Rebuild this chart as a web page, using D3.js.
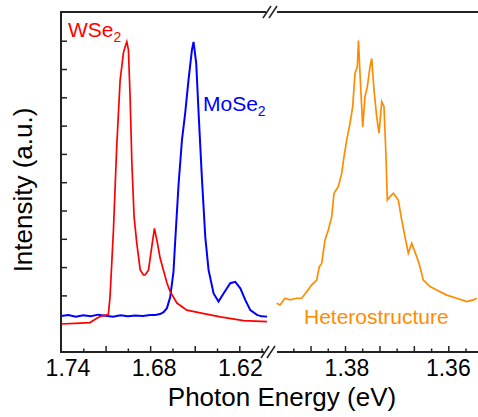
<!DOCTYPE html>
<html><head><meta charset="utf-8">
<script src="https://cdn.jsdelivr.net/npm/d3@7/dist/d3.min.js"></script>
<style>body{margin:0;background:#fff} svg{display:block} text{font-family:"Liberation Sans",Arial,sans-serif}</style>
</head><body><svg id="c" width="478" height="417"></svg>
<script>
// ---- data (photon energy in eV, intensity in a.u.) ----
const wse2E = [1.7400,1.7306,1.7204,1.7159,1.7130,1.7092,1.7081,1.7070,1.7047,1.7025,1.7002,1.6992,1.6980,1.6969,1.6957,1.6946,1.6935,1.6923,1.6908,1.6890,1.6867,1.6845,1.6834,1.6811,1.6789,1.6771,1.6751,1.6733,1.6687,1.6665,1.6620,1.6553,1.6463,1.6328,1.6171,1.6013];
const wse2I = [0.099,0.101,0.104,0.119,0.127,0.131,0.134,0.195,0.431,0.725,0.961,1.004,1.057,1.078,1.096,1.067,0.902,0.668,0.478,0.385,0.290,0.272,0.272,0.290,0.372,0.437,0.385,0.332,0.244,0.213,0.173,0.148,0.138,0.124,0.111,0.107];
const mose2E = [1.7400,1.7350,1.7300,1.7250,1.7200,1.7150,1.7100,1.7050,1.7000,1.6950,1.6900,1.6850,1.6800,1.6766,1.6733,1.6710,1.6687,1.6665,1.6643,1.6631,1.6609,1.6586,1.6564,1.6542,1.6519,1.6508,1.6490,1.6474,1.6451,1.6429,1.6407,1.6373,1.6340,1.6306,1.6261,1.6227,1.6193,1.6160,1.6126,1.6081,1.6050,1.6013];
const mose2I = [0.127,0.131,0.125,0.130,0.126,0.132,0.128,0.125,0.130,0.126,0.129,0.127,0.131,0.131,0.134,0.141,0.155,0.194,0.283,0.396,0.590,0.749,0.845,0.961,1.067,1.096,1.021,0.845,0.608,0.407,0.290,0.207,0.178,0.207,0.243,0.248,0.225,0.184,0.148,0.131,0.126,0.125];
const hetE = [1.39322,1.39258,1.39162,1.39065,1.38935,1.38838,1.38742,1.38645,1.38548,1.38498,1.38451,1.38387,1.38323,1.38257,1.38213,1.38130,1.38064,1.38019,1.37967,1.37903,1.37851,1.37806,1.37762,1.37739,1.37710,1.37657,1.37613,1.37568,1.37516,1.37483,1.37439,1.37386,1.37342,1.37289,1.37245,1.37206,1.37181,1.37129,1.37065,1.36968,1.36902,1.36838,1.36774,1.36709,1.36612,1.36548,1.36484,1.36354,1.36225,1.36031,1.35837,1.35644,1.35516,1.35450];
const hetI = [0.172,0.166,0.190,0.184,0.190,0.190,0.213,0.237,0.254,0.301,0.313,0.396,0.431,0.478,0.561,0.584,0.631,0.690,0.749,0.808,0.867,0.985,1.008,1.101,0.986,0.795,0.902,0.937,1.008,1.037,0.926,0.831,0.773,0.884,0.867,0.690,0.537,0.549,0.561,0.537,0.466,0.407,0.349,0.384,0.337,0.301,0.254,0.231,0.219,0.201,0.190,0.178,0.184,0.190];
const leftTicks = [1.725,1.71,1.695,1.68,1.665,1.65,1.635,1.62,1.605];
const leftMajor = [1.71,1.68,1.65,1.62];
const leftLabels = ["1.74","1.68","1.62"];
const rightTicks = [1.39,1.38667,1.38333,1.38,1.37667,1.37333,1.37,1.36667,1.36333,1.36,1.35667];
const rightMajor = [1.38667,1.38,1.37333,1.36667,1.36];
const rightLabels = ["1.38","1.36"];
const yTicks = [0.2,0.3,0.4,0.5,0.6,0.7,0.8,0.9,1.0,1.1];

const svg = d3.select("#c");
const xL = d3.scaleLinear().domain([1.74, 1.62]).range([61, 239.3]);
const xR = d3.scaleLinear().domain([1.38, 1.36]).range([345, 448.3]);
const y = d3.scaleLinear().domain([0, 1.1]).range([352, 40.7]);
const axisCol = "#222";
const FONT = '"Liberation Sans",Arial,sans-serif';

// curves
const lineL = d3.line().x(d => xL(d[0])).y(d => y(d[1]));
const lineR = d3.line().x(d => xR(d[0])).y(d => y(d[1]));
svg.append("path").datum(mose2E.map((e,i)=>[e,mose2I[i]])).attr("d", lineL)
  .attr("fill","none").attr("stroke","#0000ff").attr("stroke-width",2);
svg.append("path").datum(wse2E.map((e,i)=>[e,wse2I[i]])).attr("d", lineL)
  .attr("fill","none").attr("stroke","#ff0000").attr("stroke-width",1.7);
svg.append("path").datum(hetE.map((e,i)=>[e,hetI[i]])).attr("d", lineR)
  .attr("fill","none").attr("stroke","#ff8c00").attr("stroke-width",1.7);

// axes frame
const g = svg.append("g").attr("stroke", axisCol).attr("stroke-width", 2).attr("fill","none");
g.append("line").attr("x1",61).attr("y1",12).attr("x2",61).attr("y2",352);
g.append("line").attr("x1",60).attr("y1",352).attr("x2",264).attr("y2",352);
g.append("line").attr("x1",277).attr("y1",352).attr("x2",478).attr("y2",352);
g.append("line").attr("x1",60).attr("y1",12).attr("x2",266).attr("y2",12);
g.append("line").attr("x1",277).attr("y1",12).attr("x2",478).attr("y2",12);
// break marks
[[268,352],[270,12]].forEach(([cx,cy]) => {
  [-3, 3].forEach(dx => {
    g.append("line").attr("x1",cx+dx-4).attr("y1",cy+6).attr("x2",cx+dx+4).attr("y2",cy-6)
      .attr("stroke-width",1.5);
  });
});

// bottom ticks via d3 axes (inward)
function styleAxis(sel, major) {
  sel.select(".domain").remove();
  sel.selectAll(".tick line").attr("stroke", axisCol).attr("stroke-width", 1.5)
    .attr("y2", d => major.some(m => Math.abs(m-d)<1e-6) ? -6 : -3.5);
}
const axL = svg.append("g").attr("transform","translate(0,352)")
  .call(d3.axisBottom(xL).tickValues(leftTicks).tickFormat("").tickSizeOuter(0));
styleAxis(axL, leftMajor);
const axR = svg.append("g").attr("transform","translate(0,352)")
  .call(d3.axisBottom(xR).tickValues(rightTicks).tickFormat("").tickSizeOuter(0));
styleAxis(axR, rightMajor);

// tick labels
const labShiftL = [7, 4, 1];
leftLabels.forEach((s,i) => {
  svg.append("text").attr("x", xL(+s) + labShiftL[i]).attr("y", 376).attr("text-anchor","middle")
    .attr("font-size",23).attr("font-family",FONT).attr("fill","#000").text(s);
});
const labShiftR = [2, 0];
rightLabels.forEach((s,i) => {
  svg.append("text").attr("x", xR(+s) + labShiftR[i]).attr("y", 376).attr("text-anchor","middle")
    .attr("font-size",23).attr("font-family",FONT).attr("fill","#000").text(s);
});

// y ticks (inward)
const axY = svg.append("g").attr("transform","translate(61,0)")
  .call(d3.axisRight(y).tickValues(yTicks).tickFormat("").tickSize(6).tickSizeOuter(0));
axY.select(".domain").remove();
axY.selectAll(".tick line").attr("stroke", axisCol).attr("stroke-width", 1.5);

// titles
svg.append("text").attr("x",282).attr("y",406).attr("text-anchor","middle")
  .attr("font-size",26).attr("fill","#000").text("Photon Energy (eV)");
svg.append("text").attr("transform","translate(31.5,190) rotate(-90)").attr("text-anchor","middle")
  .attr("font-size",26).attr("fill","#000").text("Intensity (a.u.)");

// series labels
function label(x, yb, base, sub, col) {
  const t = svg.append("text").attr("x",x).attr("y",yb).attr("font-size",21).attr("fill",col);
  t.append("tspan").text(base);
  if (sub) t.append("tspan").attr("font-size",14).attr("dy",5).text(sub);
}
label(68, 36.5, "WSe", "2", "#ff0000");
label(203, 111, "MoSe", "2", "#0000ff");
label(304, 324, "Heterostructure", "", "#ff8c00");
</script></body></html>
